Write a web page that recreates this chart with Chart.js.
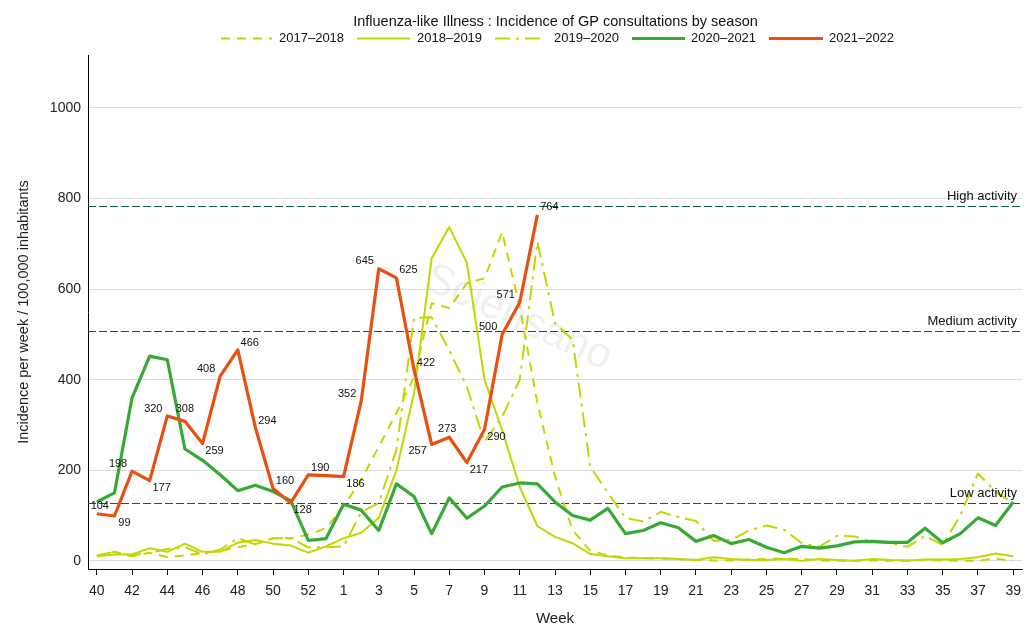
<!DOCTYPE html>
<html>
<head>
<meta charset="utf-8">
<title>Influenza-like Illness</title>
<script src="https://cdn.jsdelivr.net/npm/chart.js@4/dist/chart.umd.min.js"></script>
<style>
	html, body { margin: 0; padding: 0; background: #fff; }
	canvas { display: block; }
</style>
</head>
<body>
<canvas id="chart" width="1035" height="640"></canvas>
<script>
const FONT = '"Liberation Sans", Arial, sans-serif';
const LIME = '#c3d600';
const GREEN = '#37a935';
const RED = '#ea4f12';
const DARK = '#0b5f35';

// Weeks of the season, 40 to 53 then 1 to 39
const weeks = [];
for (let w = 40; w <= 53; w++) weeks.push(w);
for (let w = 1; w <= 39; w++) weeks.push(w);

// Incidence per season
const s1718 = [10,20,10,18,8,12,17,22,30,37,50,50,58,72,120,179,252,326,406,569,558,613,624,726,560,349,186,68,22,12,7,6,5,4,2,1,1,3,4,5,4,1,0,0,1,0,0,2,1,0,0,5,0];
const s1819 = [10,14,14,28,20,38,20,20,40,46,38,34,18,32,50,62,95,200,370,668,737,658,400,289,163,77,53,39,15,10,6,6,6,4,2,8,4,2,2,4,0,4,2,0,4,2,1,3,3,4,8,16,10];
const s1920 = [12,20,12,18,26,30,15,25,50,36,50,50,30,30,32,107,128,245,536,538,465,384,263,318,400,705,525,488,208,150,95,87,108,97,88,44,46,67,78,69,39,31,55,54,42,39,31,55,35,100,193,153,127];
const s2021 = [130,150,360,452,444,247,222,190,155,167,153,133,45,49,125,112,67,170,142,60,139,94,121,163,172,170,130,100,90,116,60,67,84,73,43,56,38,47,30,18,32,28,33,42,43,41,41,72,40,60,95,78,130];
const s2122 = [104,99,198,177,320,308,259,408,466,294,160,128,190,188,186,352,645,625,422,257,273,217,290,500,571,764];

// Offsets of the value labels from their point: index, dx, dy
const valueLabels = [
	[0,3,-8],[1,10,7],[2,-14,-7],[3,12,7],[4,-14,-7],[5,0,-12],[6,12,7],[7,-14,-7],[8,12,-7],
	[9,12,-7],[10,12,-7],[11,12,7],[12,12,-7],[14,12,7],[15,-14,-7],[16,-14,-8],[17,12,-8],
	[18,12,-7],[19,-14,7],[20,-2,-8],[21,12,7],[22,12,7],[23,-14,-7],[24,-14,-7],[25,12,-8]
];

// Activity thresholds
const thresholds = [
	{ name: 'High activity', value: 784 },
	{ name: 'Medium activity', value: 508 },
	{ name: 'Low activity', value: 128 }
];

// Legend rows: sample from/to and text start
const legendItems = [
	{ index: 0, label: '2017–2018', x0: 221, x1: 272, tx: 279 },
	{ index: 1, label: '2018–2019', x0: 357, x1: 410, tx: 417 },
	{ index: 2, label: '2019–2020', x0: 495, x1: 544, tx: 554 },
	{ index: 3, label: '2020–2021', x0: 632, x1: 685, tx: 691 },
	{ index: 4, label: '2021–2022', x0: 769, x1: 823, tx: 829 }
];

const line = (data, color, width, dash, order) => ({
	data: data,
	borderColor: color,
	borderWidth: width,
	borderDash: dash,
	pointRadius: 0,
	tension: 0,
	fill: false,
	order: order,
	borderCapStyle: 'butt',
	borderJoinStyle: 'round'
});

const datasets = [
	line(s1718, LIME, 2, [9, 7], 9),
	line(s1819, LIME, 2, [], 8),
	line(s1920, LIME, 2, [15, 6, 3, 6], 7),
	line(s2021, GREEN, 3.2, [], 6),
	line(s2122, RED, 3.2, [], 5)
];

const extras = {
	id: 'extras',
	beforeDatasetsDraw(chart) {
		const ctx = chart.ctx;
		const y = chart.scales.y;
		const area = chart.chartArea;
		ctx.save();

		// Watermark
		ctx.save();
		ctx.translate(518, 318);
		ctx.rotate(24.5 * Math.PI / 180);
		ctx.font = '43px ' + FONT;
		ctx.fillStyle = 'rgba(0,0,0,0.06)';
		ctx.textAlign = 'center';
		ctx.textBaseline = 'middle';
		ctx.fillText('Sciensano', 0, 0);
		ctx.restore();

		// Threshold lines over the full width of the plot
		ctx.strokeStyle = DARK;
		ctx.lineWidth = 1;
		ctx.setLineDash([8, 3]);
		thresholds.forEach(t => {
			const py = Math.round(y.getPixelForValue(t.value)) + 0.5;
			ctx.beginPath();
			ctx.moveTo(area.left, py);
			ctx.lineTo(area.right, py);
			ctx.stroke();
		});
		ctx.restore();
	},
	afterDatasetsDraw(chart) {
		const ctx = chart.ctx;
		const x = chart.scales.x;
		const y = chart.scales.y;
		ctx.save();
		ctx.fillStyle = '#111';
		ctx.textBaseline = 'middle';

		// Chart title
		ctx.font = '14.5px ' + FONT;
		ctx.textAlign = 'center';
		ctx.fillText('Influenza-like Illness : Incidence of GP consultations by season', 555.5, 22);

		// Value labels of the running season
		ctx.font = '11px ' + FONT;
		valueLabels.forEach(([i, dx, dy]) => {
			ctx.fillText(s2122[i], x.getPixelForValue(i) + dx, y.getPixelForValue(s2122[i]) + dy);
		});

		// Threshold names
		ctx.font = '13px ' + FONT;
		ctx.textAlign = 'right';
		thresholds.forEach(t => {
			ctx.fillText(t.name, 1017, y.getPixelForValue(t.value) - 9.5);
		});

		// Legend
		ctx.textAlign = 'left';
		legendItems.forEach(item => {
			const ds = datasets[item.index];
			ctx.beginPath();
			ctx.setLineDash(ds.borderDash);
			ctx.strokeStyle = ds.borderColor;
			ctx.lineWidth = ds.borderWidth;
			ctx.moveTo(item.x0, 38.5);
			ctx.lineTo(item.x1, 38.5);
			ctx.stroke();
			ctx.setLineDash([]);
			ctx.fillText(item.label, item.tx, 38.5);
		});
		ctx.restore();
	}
};

const chart = new Chart(document.getElementById('chart').getContext('2d'), {
	type: 'line',
	data: { labels: weeks, datasets: datasets },
	plugins: [extras],
	options: {
		responsive: false,
		animation: false,
		layout: { padding: { top: 55, right: 13, bottom: 12, left: 0 } },
		plugins: {
			legend: { display: false },
			tooltip: { enabled: false }
		},
		scales: {
			x: {
				offset: true,
				grid: { drawOnChartArea: false, drawTicks: true, tickLength: 6, color: '#000', offset: false },
				border: { color: '#000' },
				ticks: {
					autoSkip: false,
					maxRotation: 0,
					padding: 8,
					color: '#222',
					font: { family: FONT, size: 14 },
					callback: function (value, index) {
						return index % 2 === 0 ? weeks[index] : null;
					}
				},
				title: {
					display: true,
					text: 'Week',
					color: '#222',
					font: { family: FONT, size: 15 },
					padding: { top: 8, bottom: 0 }
				},
				afterFit(scale) { scale.height = 59; }
			},
			y: {
				min: -18,
				max: 1117,
				grid: { color: '#dedede', drawTicks: false },
				border: { color: '#000' },
				ticks: {
					stepSize: 200,
					includeBounds: false,
					padding: 7,
					color: '#222',
					font: { family: FONT, size: 14 },
					callback: function (value) {
						return String(value);
					}
				},
				title: {
					display: true,
					text: 'Incidence per week / 100,000 inhabitants',
					color: '#222',
					font: { family: FONT, size: 14.5 },
					padding: { top: 15, bottom: 0 }
				},
				afterFit(scale) { scale.width = 88; }
			}
		}
	}
});
</script>
</body>
</html>
